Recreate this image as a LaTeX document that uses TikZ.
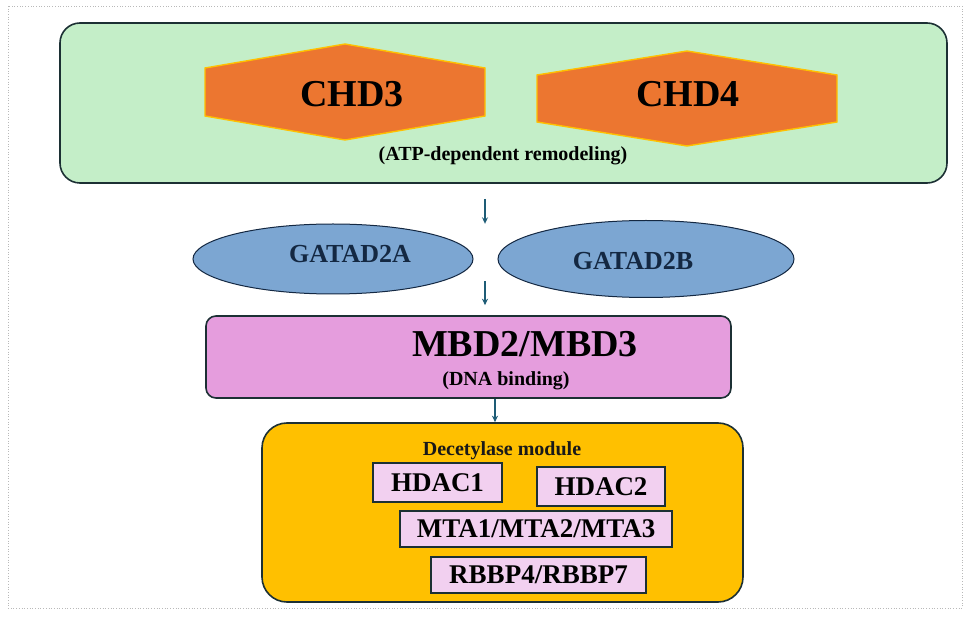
\documentclass[tikz,border=0pt]{standalone}
\usepackage{fontspec}
\setmainfont{Liberation Serif}
\usetikzlibrary{arrows.meta,positioning,shapes.geometric}
\definecolor{mint}{RGB}{196,238,200}
\definecolor{rust}{RGB}{236,118,48}
\definecolor{gold}{RGB}{255,192,0}
\definecolor{steel}{RGB}{124,166,210}
\definecolor{orchid}{RGB}{229,157,221}
\definecolor{blush}{RGB}{242,208,240}
\definecolor{navy}{RGB}{20,40,66}
\definecolor{edge}{RGB}{28,48,52}
\definecolor{teal}{RGB}{30,92,118}
\tikzset{
  >={Stealth[length=6.5pt,width=6pt]},
  panel/.style={draw=edge,fill=#1,line width=1.6pt,rounded corners=20pt,inner sep=0pt},
  hexa/.style={fill=rust,draw=gold,line width=1.4pt,line join=miter},
  big/.style={font=\fontsize{38}{44}\selectfont\bfseries,inner sep=0pt},
  note/.style={font=\fontsize{20}{24}\selectfont\bfseries,inner sep=0pt},
  oval/.style={ellipse,draw=navy,fill=steel,line width=1pt,inner sep=0pt},
  ovaltext/.style={font=\fontsize{26}{30}\selectfont\bfseries,text=navy,inner sep=0pt},
  unit/.style={draw=edge,fill=blush,line width=1.4pt,inner sep=0pt,
    font=\fontsize{27}{31}\selectfont\bfseries},
  flow/.style={->,line width=1.4pt,draw=teal},
}
\begin{document}
\begin{tikzpicture}[x=1pt,y=-1pt]
  \useasboundingbox (0,0) rectangle (969,617);
  \draw[gray!55,dotted,line width=0.7pt] (8,6) rectangle (962,608);
  % remodeling module
  \node[panel=mint,minimum width=887pt,minimum height=160pt] (remod) at (503.5,103) {};
  \filldraw[hexa] (205,68) -- (345,44) -- (485,68) -- (485,116) -- (345,140) -- (205,116) -- cycle;
  \filldraw[hexa] (537,75) -- (687,51) -- (837,75) -- (837,122) -- (687,146) -- (537,122) -- cycle;
  \node[big] (chd3) at (352,94) {CHD3};
  \node[big] (chd4) at (688,94) {CHD4};
  \node[note] (atp) at (503,156) {(ATP-dependent remodeling)};
  % GATAD2 ovals
  \node[oval,minimum width=280pt,minimum height=70pt] (gata) at (333,259) {};
  \node[oval,minimum width=296pt,minimum height=77pt] (gatb) at (646,259) {};
  \node[ovaltext] (gatatext) at (350,254) {GATAD2A};
  \node[ovaltext] (gatbtext) at (633,261) {GATAD2B};
  % MBD
  \node[panel=orchid,rounded corners=10pt,minimum width=525pt,minimum height=82pt] (mbd) at (468.5,357) {};
  \node[big] (mbdtext) at (525,344) {MBD2/MBD3};
  \node[note] (dna) at (506,381) {(DNA binding)};
  % deacetylase module
  \node[panel=gold,rounded corners=25pt,minimum width=481pt,minimum height=179pt] (deac) at (502.5,512.5) {};
  \node[note,text=black!90] (deactext) at (502,451) {Decetylase module};
  \node[unit,minimum width=129pt,minimum height=39pt] (hdac1) at (437.5,482.5) {HDAC1};
  \node[unit,minimum width=128pt,minimum height=39pt] (hdac2) at (601,486.5) {HDAC2};
  \node[unit,minimum width=272pt,minimum height=36pt] (mta) at (536,529) {MTA1/MTA2/MTA3};
  \node[unit,minimum width=215pt,minimum height=36pt] (rbbp) at (538.5,575) {RBBP4/RBBP7};
  % arrows
  \coordinate (gap) at (485,0);
  \coordinate (link) at (495,0);
  \draw[flow] (remod.south -| gap) ++(0,15) -- ++(0,25);
  \draw[flow] (mbd.north -| gap) ++(0,-34) -- ++(0,24);
  \draw[flow] (mbd.south -| link) -- (deac.north -| link);
\end{tikzpicture}
\end{document}
